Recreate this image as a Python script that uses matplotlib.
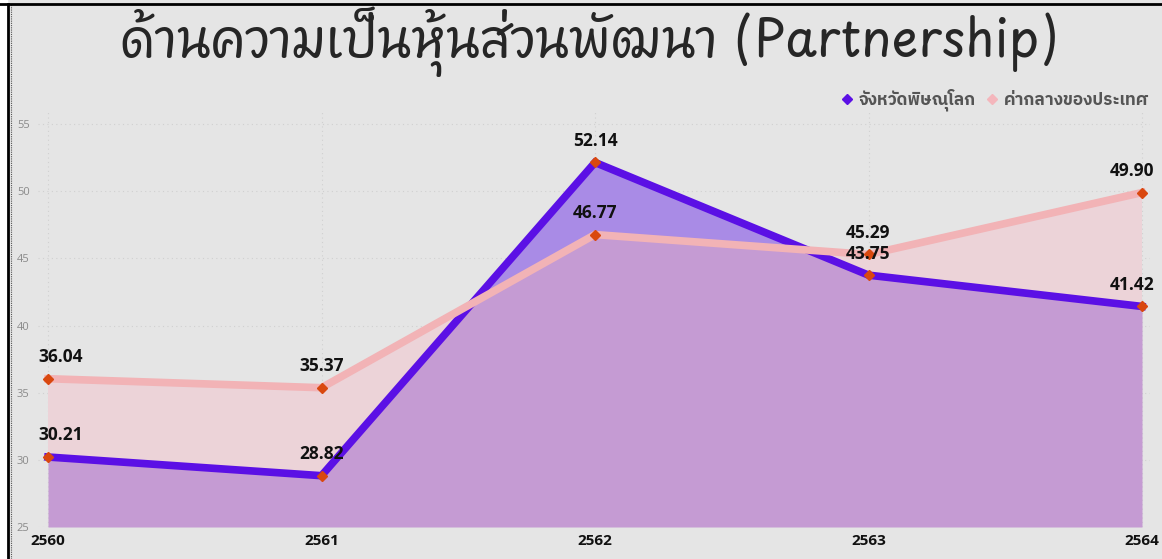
import matplotlib
matplotlib.use("Agg")
import matplotlib.pyplot as plt
from matplotlib.lines import Line2D
import numpy as np

years = [2560, 2561, 2562, 2563, 2564]
province = [30.21, 28.82, 52.14, 43.75, 41.42]
national = [36.04, 35.37, 46.77, 45.29, 49.90]
yticks = [25, 30, 35, 40, 45, 50, 55]
title = "ด้านความเป็นหุ้นส่วนพัฒนา (Partnership)"
series_names = ["จังหวัดพิษณุโลก", "ค่ากลางของประเทศ"]

BG = "#e5e5e5"
C_PROV = "#5b10e5"
C_NAT = "#f2b3b6"
C_MARK = "#d9480f"

W, H = 1162, 559
fig = plt.figure(figsize=(W / 100, H / 100), dpi=100, facecolor=BG)

# frame decorations
fig.patches.append(plt.Rectangle((0, 0), 7 / W, 1, transform=fig.transFigure, color="white", zorder=0))
fig.lines.append(Line2D([7.5 / W, 7.5 / W], [0, 1 - 4 / H], transform=fig.transFigure, color="black", lw=2))
fig.lines.append(Line2D([11 / W, 11 / W], [0, 1 - 4 / H], transform=fig.transFigure, color="#555555", lw=0.8, ls=(0, (1, 1))))
fig.lines.append(Line2D([0, 1], [1 - 4 / H, 1 - 4 / H], transform=fig.transFigure, color="black", lw=2))

ax_left, ax_right = 38, 1150
x0px, x1px = 48, 1142
ppy = (x1px - x0px) / (years[-1] - years[0])
ax = fig.add_axes([ax_left / W, 1 - 527 / H, (ax_right - ax_left) / W, (527 - 110.6) / H])
ax.set_facecolor(BG)
ax.set_xlim(years[0] - (x0px - ax_left) / ppy, years[-1] + (ax_right - x1px) / ppy)
ax.set_ylim(25, 56)

x = np.array(years, dtype=float)
p = np.array(province)
n = np.array(national)

ax.fill_between(x, 25, p, color="#c59bd3", lw=0, zorder=1)
ax.fill_between(x, n, p, where=p >= n, interpolate=True, color="#a98be6", lw=0, zorder=1)
ax.fill_between(x, p, n, where=n >= p, interpolate=True, color="#ecd3d8", lw=0, zorder=1)

ax.plot(x, p, color=C_PROV, lw=5.5, solid_joinstyle="miter", zorder=3)
ax.plot(x, n, color=C_NAT, lw=5.5, solid_joinstyle="miter", zorder=4)
ax.plot(x, p, ls="none", marker="D", ms=5, color=C_MARK, zorder=5)
ax.plot(x, n, ls="none", marker="D", ms=5, color=C_MARK, zorder=5)

# data labels
lab_font = dict(family=["Open Sans", "DejaVu Sans"], fontsize=12.5, fontweight="bold", color="#111111")
for i, (xx, a, b) in enumerate(zip(x, p, n)):
    ha = "center"
    dx = 0
    if i == 0:
        ha, dx = "left", -7
    elif i == len(x) - 1:
        ha, dx = "right", 9
    for v in (a, b):
        ax.annotate(f"{v:.2f}", (xx, v), xytext=(dx, 15.5), textcoords="offset points",
                    ha=ha, va="center", zorder=6, **lab_font)

# grid & ticks
ax.set_yticks(yticks)
ax.set_xticks(years)
ax.set_xticklabels([str(y) for y in years], family=["Open Sans", "DejaVu Sans"], fontsize=11, fontweight="bold", color="#111111")
ax.set_yticklabels([str(t) for t in yticks], family=["Open Sans", "DejaVu Sans"], fontsize=8, color="#8a8a8a")
ax.tick_params(axis="both", length=0)
ax.tick_params(axis="y", pad=6)
ax.tick_params(axis="x", pad=5)
ax.grid(True, color="#d0d0d0", ls=(0, (1, 3)), lw=0.8, zorder=0)
ax.set_axisbelow(True)
for s in ax.spines.values():
    s.set_visible(False)

# title
fig.text(590 / W, 1 - 42 / H, title, ha="center", va="center",
         family=["Playpen Sans Thai", "DejaVu Sans"], fontsize=36.5, color="#262626")

# legend
handles = [Line2D([], [], ls="none", marker="D", ms=5, color=C_PROV),
           Line2D([], [], ls="none", marker="D", ms=5, color="#f4b6bc")]
leg = fig.legend(handles, series_names, loc="center right", bbox_to_anchor=(1164 / W, 1 - 100 / H),
                 ncol=2, frameon=False, handlelength=0.6, handletextpad=0.4, columnspacing=0.6,
                 prop=dict(family=["IBM Plex Sans Thai", "DejaVu Sans"], size=12.3, weight="bold"))
for t in leg.get_texts():
    t.set_color("#555555")

fig.savefig("out.png", dpi=100, facecolor=BG)
